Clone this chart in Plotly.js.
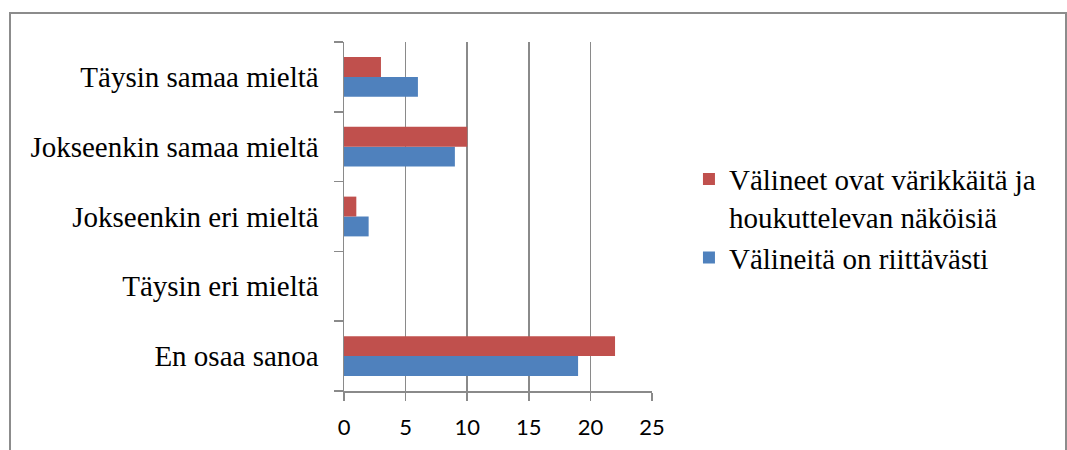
<!DOCTYPE html>
<html>
<head>
<meta charset="utf-8">
<script src="https://cdn.plot.ly/plotly-3.0.1.min.js"></script>
<style>
  html, body { margin:0; padding:0; background:#fff; }
  #wrap { position:relative; width:1067px; height:450px; overflow:hidden; }
  #frame { position:absolute; left:9px; top:12px; width:1054px; height:460px; border:2px solid #8c8c8c; pointer-events:none; }
  #chart { position:absolute; left:0; top:0; width:1067px; height:450px; }
</style>
</head>
<body>
<div id="wrap">
  <div id="chart"></div>
  <div id="frame"></div>
</div>
<script>
const categories = ["En osaa sanoa", "Täysin eri mieltä", "Jokseenkin eri mieltä", "Jokseenkin samaa mieltä", "Täysin samaa mieltä"];
const seriesBlueName = "Välineitä on riittävästi";
const seriesBlue = [19, 0, 2, 9, 6];
const seriesRedName = "Välineet ovat värikkäitä ja<br>houkuttelevan näköisiä";
const seriesRed = [22, 0, 1, 10, 3];
const xTicks = [0, 5, 10, 15, 20, 25];

const traces = [
  { type:'bar', orientation:'h', name:seriesBlueName, y:categories, x:seriesBlue,
    marker:{color:'#4F81BD'}, hoverinfo:'x+y' },
  { type:'bar', orientation:'h', name:seriesRedName, y:categories, x:seriesRed,
    marker:{color:'#C0504D'}, hoverinfo:'x+y' }
];

const serif = 'Liberation Serif, Times New Roman, serif';
const sans = 'Lato, Open Sans, sans-serif';
const gridCol = '#8a8a8a';
const layout = {
  width:1067, height:450,
  margin:{l:344, r:415, t:42, b:59},
  paper_bgcolor:'rgba(0,0,0,0)', plot_bgcolor:'rgba(0,0,0,0)',
  barmode:'group', bargap:0.43, bargroupgap:0,
  showlegend:true,
  legend:{ x:1.12, xanchor:'left', y:0.68, yanchor:'top', traceorder:'reversed', valign:'top',
    font:{family:serif, size:29, color:'#000'},
    tracegroupgap:0, bgcolor:'rgba(0,0,0,0)' },
  xaxis:{ range:[0,25], tickvals:xTicks, ticktext:xTicks.map(String), showgrid:true, gridcolor:gridCol, gridwidth:1.5,
    zeroline:false, showline:true, linecolor:gridCol, linewidth:1.5, ticks:'outside', ticklen:8, tickwidth:1.5, tickcolor:gridCol,
    ticklabelstandoff:8,
    tickfont:{family:sans, size:22, color:'#000'}, fixedrange:true },
  yaxis:{ type:'category', categoryorder:'array', categoryarray:categories, showgrid:false, zeroline:false,
    showline:true, linecolor:gridCol, linewidth:1.5, ticks:'outside', tickson:'boundaries', ticklen:9, tickwidth:1.5, tickcolor:gridCol,
    ticklabelstandoff:18,
    tickfont:{family:serif, size:29, color:'#000'}, fixedrange:true }
};
Plotly.newPlot('chart', traces, layout, {displayModeBar:false, staticPlot:true});
</script>
</body>
</html>
